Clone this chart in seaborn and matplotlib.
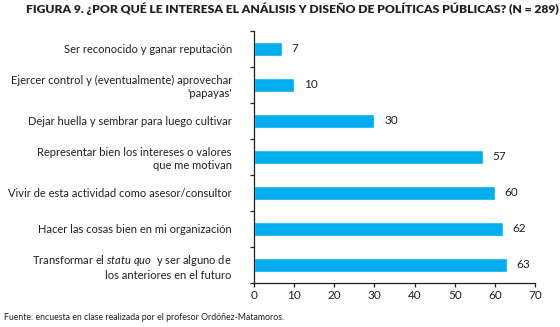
import matplotlib
matplotlib.use("Agg")
import matplotlib.pyplot as plt
import seaborn as sns
import pandas as pd
import numpy as np

title = "FIGURA 9. ¿POR QUÉ LE INTERESA EL ANÁLISIS Y DISEÑO DE POLÍTICAS PÚBLICAS? (N = 289)"
source = "Fuente: encuesta en clase realizada por el profesor Ordóñez-Matamoros."
categories = [
    "Ser reconocido y ganar reputación",
    "Ejercer control y (eventualmente) aprovechar\n'papayas'",
    "Dejar huella y sembrar para luego cultivar",
    "Representar bien los intereses o valores\nque me motivan",
    "Vivir de esta actividad como asesor/consultor",
    "Hacer las cosas bien en mi organización",
    "Transformar el $\\mathit{statu\\ quo}$  y ser alguno de\nlos anteriores en el futuro",
]
values = [7, 10, 30, 57, 60, 62, 63]
xticks = [0, 10, 20, 30, 40, 50, 60, 70]

sns.set_theme(style="white")
plt.rcParams["font.family"] = ["Lato", "DejaVu Sans"]
plt.rcParams["mathtext.fontset"] = "custom"
plt.rcParams["mathtext.it"] = "Lato:italic"
plt.rcParams["mathtext.rm"] = "Lato"

TXT = "#231f20"
BAR = "#00aeef"

df = pd.DataFrame({"cat": categories, "val": values})

fig = plt.figure(figsize=(5.6, 3.27), dpi=100)
ax = fig.add_axes([254 / 560, 1 - 283 / 327, (535 - 254) / 560, (283 - 31) / 327])
sns.barplot(data=df, x="val", y="cat", color=BAR, width=0.41, orient="h",
            saturation=1, ax=ax)

ax.set_xlim(0, 70)
ax.set_ylim(6.5, -0.5)
ax.set_xlabel("")
ax.set_ylabel("")
for s in ["top", "right"]:
    ax.spines[s].set_visible(False)
for s in ["left", "bottom"]:
    ax.spines[s].set_color(TXT)
    ax.spines[s].set_linewidth(0.9)

ax.set_xticks(xticks)
ax.set_xticklabels([str(t) for t in xticks])
ax.tick_params(axis="x", direction="out", length=3, width=0.9, color=TXT,
               pad=2, labelsize=8.5, labelcolor=TXT, bottom=True)
ax.set_yticks(range(len(categories)))
ax.set_yticks(np.arange(-0.5, len(categories), 1.0), minor=True)
ax.tick_params(axis="y", which="major", length=0, pad=16, labelsize=8,
               labelcolor=TXT)
ax.tick_params(axis="y", which="minor", direction="out", length=3, width=0.9,
               color=TXT, left=True)
for lab in ax.get_yticklabels():
    lab.set_horizontalalignment("right")
    lab.set_multialignment("right")
    lab.set_linespacing(1.25)

ax.bar_label(ax.containers[0], labels=[str(v) for v in values], padding=7,
             fontsize=8.5, color=TXT)

fig.text(26 / 560, 1 - 9 / 327, title, fontsize=8.7, fontweight="heavy",
         color=TXT, ha="left", va="center")
fig.text(4 / 560, 1 - 318 / 327, source, fontsize=6.3, color=TXT,
         ha="left", va="center")

fig.savefig("out.png", dpi=100)
